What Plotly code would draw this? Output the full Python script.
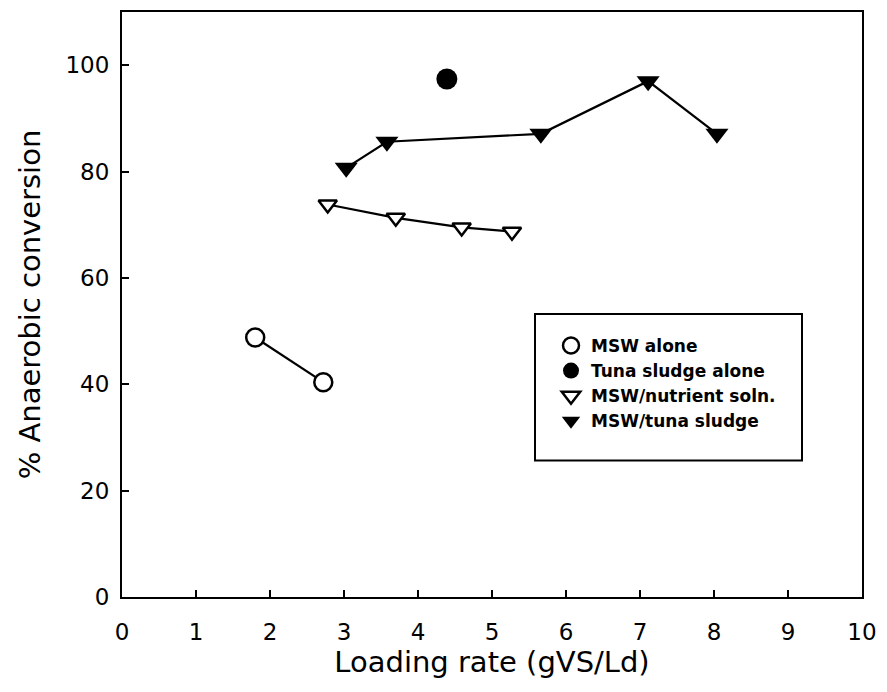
import plotly.graph_objects as go

msw_x = [1.80, 2.72]
msw_y = [48.8, 40.4]
tuna_x = [4.39]
tuna_y = [97.4]
nut_x = [2.78, 3.70, 4.59, 5.27]
nut_y = [73.8, 71.3, 69.5, 68.7]
mt_x = [3.03, 3.58, 5.66, 7.11, 8.04]
mt_y = [80.7, 85.6, 87.1, 97.0, 87.1]

names = ["MSW alone", "Tuna sludge alone", "MSW/nutrient soln.", "MSW/tuna sludge"]

line = dict(color="black", width=2.2)
fig = go.Figure()
# connecting lines (no legend)
for xs, ys in [(msw_x, msw_y), (nut_x, nut_y), (mt_x, mt_y)]:
    fig.add_trace(go.Scatter(x=xs, y=ys, mode="lines", line=line, showlegend=False,
                             hoverinfo="skip"))
fig.add_trace(go.Scatter(x=msw_x, y=msw_y, mode="markers", name=names[0],
                         marker=dict(symbol="circle", size=18, color="white",
                                     line=dict(color="black", width=2.5))))
fig.add_trace(go.Scatter(x=tuna_x, y=tuna_y, mode="markers", name=names[1],
                         marker=dict(symbol="circle", size=21, color="black")))
fig.add_trace(go.Scatter(x=nut_x, y=nut_y, mode="markers", name=names[2],
                         marker=dict(symbol="triangle-down", size=16, color="white",
                                     line=dict(color="black", width=2.5))))
fig.add_trace(go.Scatter(x=mt_x, y=mt_y, mode="markers", name=names[3],
                         marker=dict(symbol="triangle-down", size=20, color="black")))

W, H = 887, 692
L, R, T, B = 122, 25, 10, 95
pw, ph = W - L - R, H - T - B
def px(xp): return (xp - L) / pw
def py(yp): return 1 - (yp - T) / ph

fig.add_shape(type="rect", xref="paper", yref="paper",
              x0=px(535), x1=px(802), y0=py(460), y1=py(313),
              line=dict(color="black", width=2), fillcolor="white", layer="below")

fig.update_layout(
    width=W, height=H, margin=dict(l=L, r=R, t=T, b=B),
    plot_bgcolor="white", paper_bgcolor="white",
    showlegend=True,
    legend=dict(x=px(551), y=py(327), xanchor="left", yanchor="top",
                bgcolor="rgba(0,0,0,0)", borderwidth=0,
                font=dict(family="DejaVu Sans", size=17, color="black", weight="bold"),
                tracegroupgap=0, itemwidth=30),
    font=dict(family="DejaVu Sans", color="black"),
)
fig.update_xaxes(range=[0, 10], tickvals=list(range(11)), ticks="inside", ticklen=7,
                 tickwidth=2, tickcolor="black", showline=True, linecolor="black",
                 linewidth=2, mirror=True, showgrid=False, zeroline=False,
                 tickfont=dict(size=23), ticklabelstandoff=13,
                 title=dict(text="Loading rate (gVS/Ld)", font=dict(size=29), standoff=7))
fig.update_yaxes(range=[0, 110], tickvals=[0, 20, 40, 60, 80, 100], ticks="inside", ticklen=7,
                 tickwidth=2, tickcolor="black", showline=True, linecolor="black",
                 linewidth=2, mirror=True, showgrid=False, zeroline=False,
                 tickfont=dict(size=23), ticklabelstandoff=6,
                 title=dict(text="% Anaerobic conversion", font=dict(size=29), standoff=16))

fig.write_html("out.html")
